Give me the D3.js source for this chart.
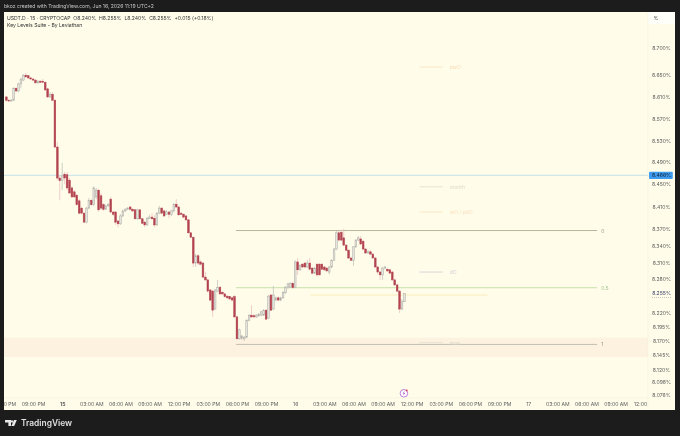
<!DOCTYPE html>
<html><head><meta charset="utf-8">
<style>html,body{margin:0;padding:0;background:#1c1c1c}svg{display:block;filter:blur(.3px)}text{font-family:Inter,"Noto Sans",sans-serif}</style>
<script src="https://cdn.jsdelivr.net/npm/d3@7"></script></head><body><svg id="c" width="680" height="436"></svg>
<script>
const opens=[8.610,8.604,8.603,8.604,8.626,8.621,8.634,8.641,8.650,8.649,
8.645,8.643,8.641,8.636,8.639,8.639,8.637,8.625,8.610,8.615,
8.604,8.518,8.461,8.456,8.468,8.467,8.457,8.443,8.436,8.430,
8.420,8.407,8.398,8.382,8.407,8.421,8.413,8.427,8.439,8.429,
8.413,8.405,8.411,8.423,8.400,8.400,8.384,8.379,8.393,8.402,
8.405,8.409,8.405,8.404,8.388,8.404,8.388,8.382,8.377,8.389,
8.391,8.389,8.377,8.398,8.407,8.402,8.396,8.400,8.396,8.402,
8.414,8.409,8.398,8.396,8.393,8.386,8.363,8.355,8.309,8.322,
8.311,8.309,8.284,8.279,8.261,8.259,8.227,8.259,8.266,8.257,
8.254,8.250,8.249,8.247,8.249,8.213,8.174,8.175,8.174,8.177,
8.207,8.216,8.215,8.213,8.215,8.216,8.216,8.225,8.211,8.252,
8.227,8.243,8.247,8.243,8.247,8.256,8.265,8.266,8.273,8.266,
8.311,8.297,8.307,8.309,8.302,8.309,8.300,8.291,8.307,8.307,
8.307,8.302,8.300,8.293,8.302,8.314,8.334,8.363,8.364,8.354,
8.341,8.332,8.318,8.314,8.338,8.350,8.352,8.348,8.334,8.327,
8.329,8.325,8.318,8.302,8.293,8.288,8.300,8.298,8.297,8.293,
8.279,8.270,8.259,8.227,8.240];
const closes=[8.604,8.603,8.604,8.626,8.621,8.634,8.643,8.649,8.647,8.645,
8.643,8.641,8.636,8.639,8.637,8.637,8.623,8.610,8.615,8.604,
8.518,8.461,8.456,8.465,8.461,8.443,8.434,8.427,8.427,8.413,
8.398,8.398,8.382,8.407,8.421,8.413,8.443,8.439,8.404,8.407,
8.405,8.411,8.413,8.400,8.396,8.382,8.379,8.393,8.402,8.405,
8.407,8.405,8.402,8.388,8.404,8.388,8.380,8.377,8.389,8.391,
8.388,8.377,8.398,8.407,8.398,8.393,8.400,8.396,8.402,8.414,
8.409,8.395,8.396,8.391,8.386,8.363,8.355,8.309,8.322,8.309,
8.307,8.284,8.279,8.259,8.243,8.225,8.261,8.265,8.254,8.254,
8.249,8.247,8.245,8.243,8.213,8.174,8.190,8.179,8.177,8.207,
8.216,8.213,8.213,8.216,8.218,8.222,8.224,8.209,8.250,8.225,
8.252,8.247,8.243,8.247,8.257,8.266,8.272,8.273,8.265,8.311,
8.297,8.305,8.302,8.302,8.309,8.298,8.291,8.300,8.288,8.288,
8.298,8.297,8.295,8.302,8.314,8.334,8.363,8.350,8.350,8.341,
8.332,8.318,8.314,8.338,8.350,8.354,8.343,8.334,8.327,8.329,
8.325,8.318,8.302,8.293,8.288,8.300,8.302,8.295,8.291,8.279,
8.270,8.259,8.227,8.240,8.255];
const highs=[8.612,8.606,8.606,8.628,8.628,8.636,8.645,8.652,8.654,8.650,
8.647,8.645,8.643,8.641,8.641,8.643,8.639,8.626,8.619,8.619,
8.606,8.527,8.465,8.489,8.472,8.472,8.461,8.446,8.439,8.432,
8.423,8.409,8.400,8.409,8.425,8.423,8.446,8.443,8.441,8.434,
8.416,8.413,8.416,8.427,8.402,8.402,8.386,8.396,8.404,8.407,
8.409,8.411,8.407,8.405,8.405,8.405,8.389,8.384,8.391,8.395,
8.398,8.395,8.400,8.411,8.409,8.404,8.404,8.402,8.404,8.416,
8.423,8.411,8.400,8.398,8.395,8.388,8.364,8.357,8.325,8.325,
8.314,8.311,8.293,8.281,8.263,8.261,8.263,8.279,8.268,8.259,
8.256,8.252,8.250,8.249,8.252,8.215,8.192,8.181,8.179,8.209,
8.218,8.234,8.218,8.218,8.220,8.224,8.227,8.227,8.252,8.254,
8.268,8.249,8.250,8.249,8.259,8.268,8.273,8.275,8.275,8.314,
8.318,8.307,8.309,8.311,8.314,8.318,8.302,8.302,8.309,8.309,
8.309,8.304,8.302,8.304,8.316,8.336,8.366,8.366,8.368,8.370,
8.343,8.334,8.320,8.339,8.352,8.357,8.357,8.350,8.336,8.332,
8.332,8.327,8.320,8.304,8.295,8.302,8.304,8.300,8.298,8.295,
8.281,8.272,8.261,8.245,8.255];
const lows=[8.601,8.601,8.601,8.603,8.619,8.619,8.626,8.639,8.645,8.643,
8.641,8.639,8.634,8.634,8.636,8.636,8.621,8.608,8.608,8.603,
8.516,8.457,8.421,8.439,8.450,8.439,8.432,8.425,8.425,8.411,
8.396,8.396,8.380,8.380,8.405,8.411,8.411,8.423,8.400,8.404,
8.402,8.404,8.409,8.398,8.393,8.377,8.373,8.377,8.391,8.400,
8.404,8.404,8.400,8.386,8.386,8.386,8.379,8.373,8.375,8.388,
8.386,8.373,8.375,8.396,8.396,8.391,8.395,8.389,8.393,8.400,
8.407,8.393,8.395,8.389,8.384,8.361,8.354,8.302,8.302,8.305,
8.305,8.282,8.277,8.257,8.241,8.213,8.225,8.257,8.252,8.252,
8.247,8.245,8.243,8.241,8.211,8.172,8.172,8.172,8.170,8.175,
8.205,8.211,8.211,8.211,8.213,8.215,8.215,8.207,8.209,8.224,
8.225,8.241,8.241,8.241,8.245,8.254,8.263,8.265,8.263,8.265,
8.288,8.295,8.300,8.300,8.300,8.297,8.289,8.289,8.284,8.286,
8.297,8.295,8.293,8.289,8.300,8.313,8.332,8.348,8.348,8.339,
8.330,8.316,8.313,8.304,8.336,8.348,8.341,8.332,8.325,8.325,
8.323,8.316,8.300,8.289,8.279,8.279,8.298,8.293,8.289,8.277,
8.268,8.257,8.220,8.225,8.240];
const priceTicks=[8.700,8.650,8.610,8.570,8.530,8.490,8.450,8.410,8.370,8.340,8.310,8.280,8.220,8.195,8.170,8.145,8.120,8.098,8.076];
const timeTickLabels=["06:00 PM","09:00 PM","15","03:00 AM","06:00 AM","09:00 AM","12:00 PM","03:00 PM","06:00 PM","09:00 PM","16","03:00 AM","06:00 AM","09:00 AM","12:00 PM","03:00 PM","06:00 PM","09:00 PM","17","03:00 AM","06:00 AM","09:00 AM","12:00 PM"];
const timeTickHours=[-6,-3,0,3,6,9,12,15,18,21,24,27,30,33,36,39,42,45,48,51,54,57,60];
const fibLevels=[{name:"0",p:8.367,c:"#b8b59c",t:"#9a9a8c"},{name:"0.5",p:8.265,c:"#c6e0aa",t:"#a5c792"},{name:"1",p:8.164,c:"#c2bfb2",t:"#8f8f88"}];
const shortLevels=[{name:"pwO",p:8.665,c:"#fbe6c8",t:"#fbd9b4"},{name:"month",p:8.445,c:"#e3e6d3",t:"#d9dccb"},{name:"wO / pdO",p:8.400,c:"#fbe8c8",t:"#fbdcb8"},{name:"dO",p:8.293,c:"#d9d6dc",t:"#d2cfd6"},{name:"mon",p:8.167,c:"#e5e3d3",t:"#d8d6c8"}];
const lastPrice=8.255, markPrice=8.466, yellowLevel=8.252, bandTop=8.176, bandBottom=8.142;

const L=4,R=675,T=12,B=410,PX=648,TA=398,FS=5.08;
const svg=d3.select("#c");
const start=Date.UTC(2026,5,14,18,15);
const hour=3600000, day0=Date.UTC(2026,5,15);
const dates=opens.map((_,i)=>new Date(start+i*hour/4));
const x=d3.scaleUtc().domain([new Date(day0),new Date(day0+24*hour)]).range([62.2,295.2]);
const y=d3.scaleLinear().domain([8.7,8.45,8.17,8.076]).range([48,184,341,394.5]);

svg.append("rect").attr("width",680).attr("height",436).attr("fill","#1c1c1c");
svg.append("rect").attr("x",L).attr("y",T).attr("width",R-L).attr("height",B-T).attr("fill","#fffdea");
svg.append("rect").attr("x",PX).attr("y",T).attr("width",R-PX).attr("height",12).attr("fill","#fffffa");
const defs=svg.append("defs");
defs.append("clipPath").attr("id","pane").append("rect").attr("x",L).attr("y",T).attr("width",PX-L).attr("height",TA-T);
defs.append("clipPath").attr("id","taxis").append("rect").attr("x",L).attr("y",TA).attr("width",PX-L).attr("height",B-TA);

const pane=svg.append("g").attr("clip-path","url(#pane)");
pane.append("rect").attr("x",L).attr("width",PX-L).attr("y",y(bandTop)).attr("height",y(bandBottom)-y(bandTop)).attr("fill","#fdf1e0");
pane.append("line").attr("x1",L).attr("x2",PX).attr("y1",y(markPrice)).attr("y2",y(markPrice)).attr("stroke","#c5e0e6").attr("stroke-width",1);

const fx1=x(new Date(day0+17.9*hour)),fx2=x(new Date(day0+55.1*hour));
fibLevels.forEach(d=>{
 pane.append("line").attr("x1",fx1).attr("x2",fx2).attr("y1",y(d.p)).attr("y2",y(d.p)).attr("stroke",d.c).attr("stroke-width",1);
 pane.append("text").attr("x",fx2+4).attr("y",y(d.p)+2).attr("font-size",FS).attr("fill",d.t).text(d.name);
});
pane.append("line").attr("x1",x(new Date(day0+25.6*hour))).attr("x2",x(new Date(day0+43.8*hour))).attr("y1",y(yellowLevel)).attr("y2",y(yellowLevel)).attr("stroke","#fbeab8").attr("stroke-width",1);
const sx1=x(new Date(day0+36.8*hour)),sx2=x(new Date(day0+39.2*hour));
shortLevels.forEach(d=>{
 pane.append("line").attr("x1",sx1).attr("x2",sx2).attr("y1",y(d.p)).attr("y2",y(d.p)).attr("stroke",d.c).attr("stroke-width",1);
 pane.append("text").attr("x",sx2+7).attr("y",y(d.p)+2).attr("font-size",FS).attr("fill",d.t).text(d.name);
});

const idx=d3.range(opens.length);
const upC="#aaa9a4",dnC="#b2434f";
pane.append("g").selectAll("line").data(idx).join("line")
 .attr("x1",i=>x(dates[i])).attr("x2",i=>x(dates[i]))
 .attr("y1",i=>y(highs[i])).attr("y2",i=>y(lows[i]))
 .attr("stroke",i=>closes[i]>=opens[i]?"#c4c3bd":"#ecc2c2").attr("stroke-width",.8);
pane.append("g").selectAll("rect").data(idx).join("rect")
 .attr("x",i=>x(dates[i])-.85).attr("width",1.7)
 .attr("y",i=>y(Math.max(opens[i],closes[i])))
 .attr("height",i=>Math.max(.8,Math.abs(y(opens[i])-y(closes[i]))))
 .attr("fill",i=>closes[i]>=opens[i]?"#e6e5de":dnC)
 .attr("stroke",i=>closes[i]>=opens[i]?upC:dnC).attr("stroke-width",.5);

const mx=x(new Date(day0+35.2*hour)),my=393.3;
pane.append("circle").attr("cx",mx).attr("cy",my).attr("r",3.8).attr("fill","#fff").attr("stroke","#b05fd0").attr("stroke-width",.8);
pane.append("path").attr("d",`M${mx+.6},${my-2.2}L${mx-1.3},${my+.3}H${mx-.1}L${mx-.6},${my+2.2}L${mx+1.3},${my-.4}H${mx+.1}Z`).attr("fill","#a94fd0");
pane.append("circle").attr("cx",mx+2.8).attr("cy",my-2.8).attr("r",.9).attr("fill","#e0405a");

const yAxis=d3.axisRight(y).tickValues(priceTicks).tickSize(0).tickPadding(0).tickFormat(d=>d3.format(".3f")(d)+"%");
const ga=svg.append("g").attr("transform",`translate(${PX},0)`).call(yAxis);
ga.select(".domain").remove();
ga.selectAll("text").attr("x",13.5).attr("text-anchor","middle").attr("font-size",FS).attr("fill","#5c5c5c").attr("font-family","Inter");
svg.append("line").attr("x1",PX).attr("x2",PX).attr("y1",T).attr("y2",B).attr("stroke","#f3f1de").attr("stroke-width",.6);
svg.append("line").attr("x1",L).attr("x2",PX).attr("y1",TA).attr("y2",TA).attr("stroke","#f3f1de").attr("stroke-width",.6);

const tickDates=timeTickHours.map(h=>new Date(day0+h*hour));
const xAxis=d3.axisBottom(x).tickValues(tickDates).tickSize(0).tickPadding(0).tickFormat((d,i)=>timeTickLabels[i]);
const gx=svg.append("g").attr("clip-path","url(#taxis)").append("g").attr("transform",`translate(0,${TA})`).call(xAxis);
gx.select(".domain").remove();
gx.selectAll("text").attr("y",6.5).attr("dy",".32em").attr("font-size",FS).attr("fill","#5c5c5c").attr("font-family","Inter")
 .attr("font-weight",(d,i)=>timeTickLabels[i]==="15"?700:400);

svg.append("rect").attr("x",649).attr("y",y(markPrice)-3.6).attr("width",23.8).attr("height",7.2).attr("rx",1).attr("fill","#3d9bf0");
svg.append("text").attr("x",661.5).attr("y",y(markPrice)+1.9).attr("text-anchor","middle").attr("font-size",FS).attr("fill","#123").text(d3.format(".3f")(markPrice)+"%");
svg.append("text").attr("x",661.5).attr("y",y(lastPrice)+1.9).attr("text-anchor","middle").attr("font-size",FS).attr("fill","#3a3f6a").text(d3.format(".3f")(lastPrice)+"%");
svg.append("line").attr("x1",652).attr("x2",671).attr("y1",y(lastPrice)+4.2).attr("y2",y(lastPrice)+4.2).attr("stroke","#9a9a9a").attr("stroke-width",.6).attr("stroke-dasharray","1 1");
svg.append("text").attr("x",656).attr("y",20).attr("text-anchor","middle").attr("font-size",FS).attr("fill","#333").text("%");

svg.append("text").attr("x",4).attr("y",8).attr("font-size",FS).attr("fill","#c9c9c9").text("bkoz created with TradingView.com, Jun 16, 2026 11:19 UTC+2");
svg.append("text").attr("x",7).attr("y",20).attr("font-size",FS).attr("fill","#333").attr("xml:space","preserve").text("USDT.D · 15 · CRYPTOCAP  O8.240%  H8.255%  L8.240%  C8.255%  +0.015 (+0.18%)");
svg.append("text").attr("x",7).attr("y",27).attr("font-size",FS).attr("fill","#333").text("Key Levels Suite - By Leviathan");

svg.append("path").attr("d","M5,420H11V426H8.4V422.4H5ZM12,420.2A1.2,1.2 0 1 1 11.99,420.2ZM14,420H16.8L14.2,426H11.4Z").attr("fill","#e8e8e8");
svg.append("text").attr("x",21).attr("y",426.3).attr("font-size",8.4).attr("font-weight",600).attr("fill","#e0e0e0").text("TradingView");
</script></body></html>
